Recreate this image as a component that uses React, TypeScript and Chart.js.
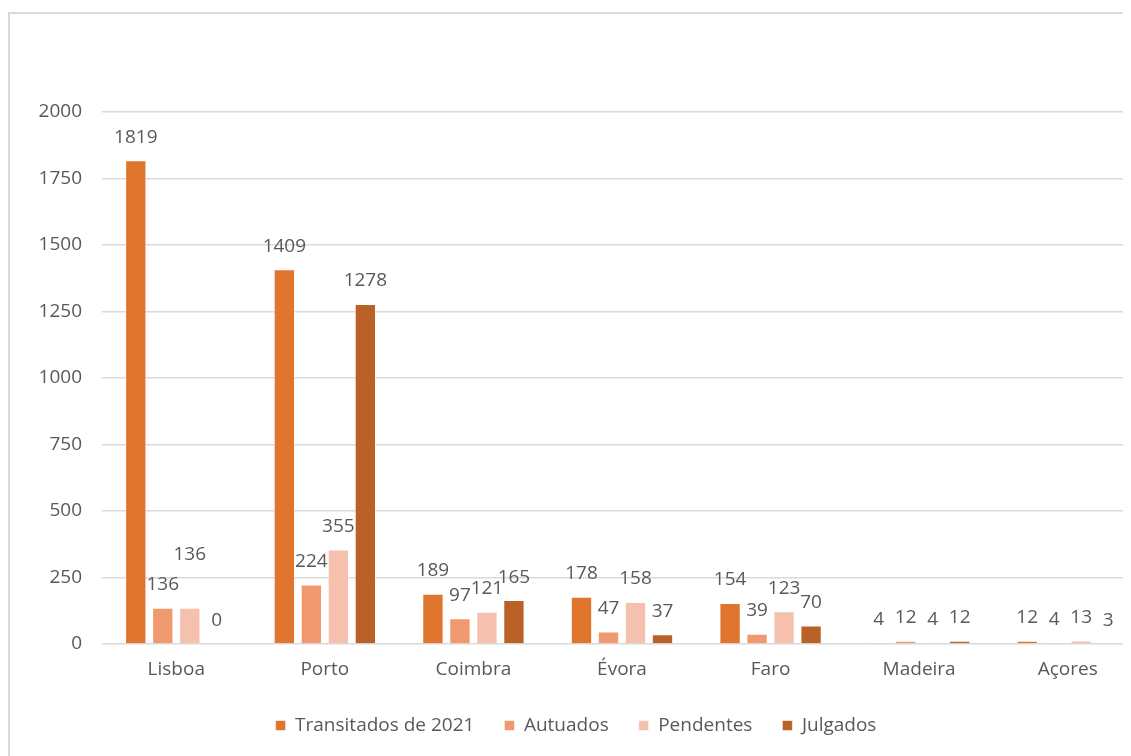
import React, { useEffect, useRef } from "react";
import { Chart, registerables } from "chart.js";

Chart.register(...registerables);

const categories = ["Lisboa", "Porto", "Coimbra", "Évora", "Faro", "Madeira", "Açores"];
const seriesNames = ["Transitados de 2021", "Autuados", "Pendentes", "Julgados"];
const transitados = [1819, 1409, 189, 178, 154, 4, 12];
const autuados = [136, 224, 97, 47, 39, 12, 4];
const pendentes = [136, 355, 121, 158, 123, 4, 13];
const julgados = [0, 1278, 165, 37, 70, 12, 3];
const yTicks = [0, 250, 500, 750, 1000, 1250, 1500, 1750, 2000];
const seriesColors = ["#E0752D", "#F0996F", "#F5C1AE", "#BA6127"];

const FONT = "'Open Sans', 'Liberation Sans', sans-serif";
const FONT_SIZE = 19;
const TEXT = "#595959";
const GRID = "#D9D9D9";

const barLabels = {
  id: "barLabels",
  afterDatasetsDraw(chart: any) {
    const ctx = chart.ctx;
    ctx.save();
    ctx.font = `${FONT_SIZE}px ${FONT}`;
    ctx.fillStyle = TEXT;
    ctx.textAlign = "center";
    ctx.textBaseline = "middle";
    const n = chart.data.labels.length;
    for (let j = 0; j < n; j++) {
      const placed: { x: number; y: number; w: number }[] = [];
      chart.data.datasets.forEach((ds: any, i: number) => {
        const el = chart.getDatasetMeta(i).data[j];
        if (!el) return;
        const text = String(ds.data[j]);
        const w = ctx.measureText(text).width;
        const x = el.x;
        let y = el.y - 23;
        let moved = true;
        while (moved) {
          moved = false;
          for (const p of placed) {
            if (Math.abs(p.x - x) < (p.w + w) / 2 && Math.abs(p.y - y) < 3) {
              y -= 30;
              moved = true;
            }
          }
        }
        placed.push({ x, y, w });
        ctx.fillText(text, x, y);
      });
    }
    ctx.restore();
  },
};

export default function App() {
  const ref = useRef<HTMLCanvasElement | null>(null);

  useEffect(() => {
    document.body.style.overflow = "hidden";
    document.documentElement.style.overflow = "hidden";
    if (!ref.current) return;
    const seriesData = [transitados, autuados, pendentes, julgados];
    const chart = new Chart(ref.current, {
      type: "bar",
      data: {
        labels: categories,
        datasets: seriesNames.map((name, i) => ({
          label: name,
          data: seriesData[i],
          backgroundColor: seriesColors[i],
          borderColor: "rgba(255,255,255,0.55)",
          borderWidth: 1,
          categoryPercentage: 0.727,
          barPercentage: 0.79,
        })),
      },
      options: {
        responsive: false,
        animation: false,
        devicePixelRatio: 1,
        layout: { padding: { top: 98, right: 7, bottom: 29, left: 0 } },
        plugins: {
          legend: {
            position: "bottom",
            labels: {
              boxWidth: 10,
              boxHeight: 10,
              padding: 30,
              color: TEXT,
              font: { family: FONT, size: FONT_SIZE },
            },
          },
          tooltip: { enabled: false },
        },
        scales: {
          x: {
            grid: { display: false },
            border: { display: false },
            ticks: {
              color: TEXT,
              font: { family: FONT, size: FONT_SIZE },
              padding: 6,
              maxRotation: 0,
            },
            afterFit(scale: any) {
              scale.height = 42;
            },
          },
          y: {
            min: 0,
            max: 2000,
            afterBuildTicks(scale: any) {
              scale.ticks = yTicks.map((v) => ({ value: v }));
            },
            grid: { color: GRID, lineWidth: 1.5, drawTicks: false },
            border: { display: false },
            ticks: {
              color: TEXT,
              font: { family: FONT, size: FONT_SIZE },
              padding: 20,
              callback: (v: any) => String(v),
            },
            afterFit(scale: any) {
              scale.width = 92;
            },
          },
        },
      },
      plugins: [barLabels],
    });
    return () => chart.destroy();
  }, []);

  return (
    <div style={{ position: "relative", width: 1123, height: 748, overflow: "hidden" }}>
      <div
        style={{
          position: "absolute",
          left: 0,
          top: 4,
          width: 1143,
          height: 800,
          border: "2px solid #D9D9D9",
          boxSizing: "border-box",
          background: "#ffffff",
        }}
      >
        <canvas ref={ref} width={1139} height={760} style={{ display: "block", width: 1139, height: 760 }} />
      </div>
    </div>
  );
}
